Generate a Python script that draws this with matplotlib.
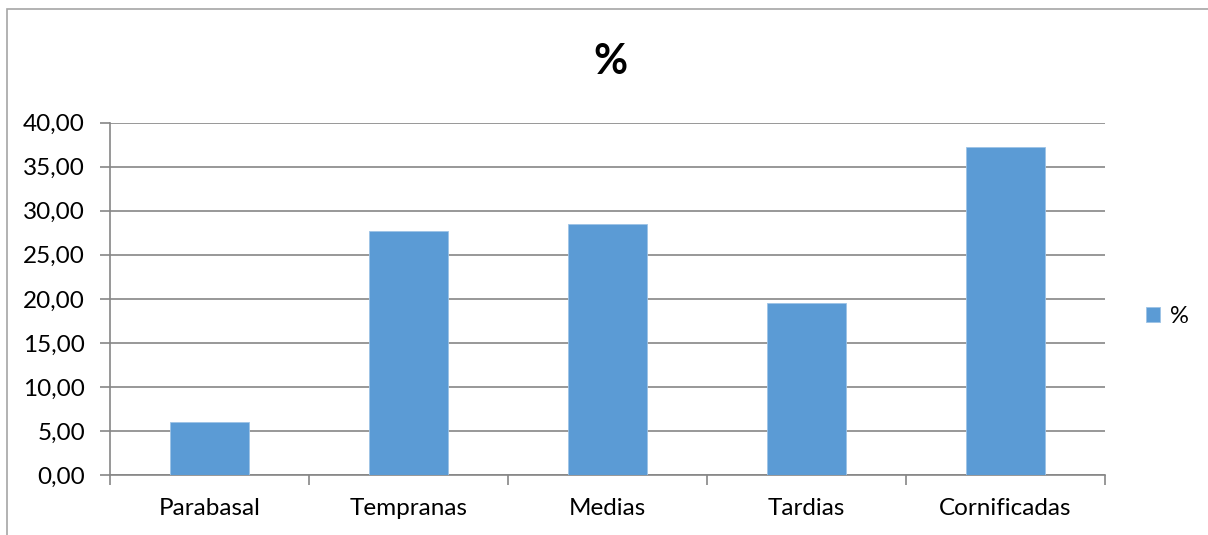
import matplotlib.pyplot as plt
from matplotlib.patches import Rectangle

categories = ["Parabasal", "Tempranas", "Medias", "Tardias", "Cornificadas"]
values = [6.05, 27.65, 28.51, 19.48, 37.17]
series_name = "%"
yticks = [0, 5, 10, 15, 20, 25, 30, 35, 40]

plt.rcParams['font.family'] = ['Lato', 'DejaVu Sans']
bar_color = '#5b9bd5'
grid_color = '#868686'

fig = plt.figure(figsize=(12.08, 5.35), dpi=100)
ax = fig.add_axes([0.0911, 0.1116, 0.8236, 0.6594])

x = list(range(len(categories)))
ax.bar(x, values, width=0.4, color=bar_color, edgecolor='#9dc3e6', linewidth=0.6,
       label=series_name, zorder=3)

ax.set_xlim(-0.5, len(categories) - 0.5)
ax.set_ylim(0, 40)
ax.set_yticks(yticks)
ax.set_yticklabels([f"{v:.2f}".replace('.', ',') for v in yticks], fontsize=17.5)
ax.set_xticks(x)
ax.set_xticklabels(categories, fontsize=17.5)
ax.tick_params(axis='x', which='major', length=0, pad=16)
ax.set_xticks([i - 0.5 for i in range(len(categories) + 1)], minor=True)
ax.tick_params(axis='x', which='minor', length=7, color=grid_color, width=1.2)
ax.tick_params(axis='y', length=7, color=grid_color, width=1.2, pad=11)

ax.grid(axis='y', color=grid_color, linewidth=1.2, zorder=0)
for s in ['top', 'right']:
    ax.spines[s].set_visible(False)
ax.spines['left'].set_color(grid_color)
ax.spines['bottom'].set_color(grid_color)
ax.spines['left'].set_linewidth(1.2)
ax.spines['bottom'].set_linewidth(1.2)

fig.text(0.5055, 0.884, series_name, ha='center', va='center', fontsize=30, fontweight='bold')

ax.legend(loc='center left', bbox_to_anchor=(1.02, 0.45), frameon=False, fontsize=17,
          handlelength=0.6, handleheight=0.6, handletextpad=0.4)

fig.patches.append(Rectangle((7 / 1208, -0.01), 1.1, 1 - 9 / 535 + 0.01, transform=fig.transFigure,
                             fill=False, edgecolor='#a6a6a6', linewidth=1.2))

fig.savefig("out.png", dpi=100)
